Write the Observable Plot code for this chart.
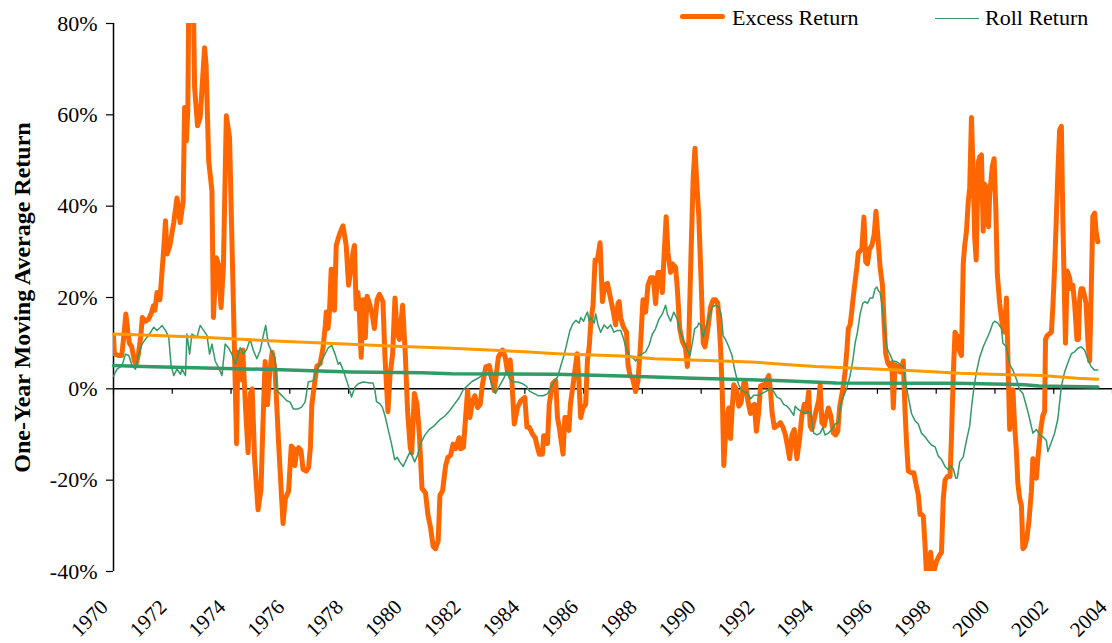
<!DOCTYPE html>
<html>
<head>
<meta charset="utf-8">
<script src="https://cdn.jsdelivr.net/npm/d3@7"></script>
<script src="https://cdn.jsdelivr.net/npm/@observablehq/plot@0.6"></script>
<style>
  html, body { margin: 0; padding: 0; background: #fff; }
  #wrap { position: relative; width: 1112px; height: 643px; font-family: "Liberation Serif", "Times New Roman", serif; color: #000; }
  .leg-line { position: absolute; }
  .leg-text { position: absolute; font-size: 22px; line-height: 22px; white-space: nowrap; }
</style>
</head>
<body>
<div id="wrap">
  <div class="leg-line" style="left:680px; top:14px; width:45px; height:5px; background:#FF6600; border-radius:2.5px;"></div>
  <div class="leg-text" style="left:732px; top:7px;">Excess Return</div>
  <div class="leg-line" style="left:935px; top:17.5px; width:44px; height:1.5px; background:#339966;"></div>
  <div class="leg-text" style="left:985px; top:7px;">Roll Return</div>
</div>
<script>
// ---- Data (year, % value) ----
const excessReturn = [
[1970.00,11.6],[1970.03,7.7],[1970.17,7.3],[1970.28,7.3],[1970.34,10.8],[1970.42,16.4],[1970.49,12.4],[1970.54,10],[1970.62,9.2],[1970.71,6.1],[1970.77,5.3],[1970.85,7.7],[1970.93,11.6],[1970.98,15.6],
[1971.08,14.8],[1971.19,15.2],[1971.28,16.4],[1971.36,18.2],[1971.41,17.2],[1971.48,21.1],[1971.58,19.5],[1971.70,29.8],[1971.77,36.8],[1971.82,29.5],[1971.92,31.4],
[1972.05,36.4],[1972.16,41.8],[1972.27,36.4],[1972.37,41],[1972.42,61.6],[1972.48,54.3],[1972.53,61],[1972.56,84],[1972.72,84],[1972.76,66],[1972.86,57.6],[1972.95,59.4],
[1973.10,74.7],[1973.15,71],[1973.24,49.9],[1973.35,43.4],[1973.40,15.6],[1973.50,28.7],[1973.57,27.3],[1973.66,17.8],[1973.74,26.6],[1973.84,59.8],[1973.95,55],
[1974.19,-12],[1974.23,8],[1974.30,5],[1974.34,2],[1974.40,8.5],[1974.50,-5],[1974.58,-14],[1974.66,-1],[1974.72,0],[1974.80,-15],[1974.92,-26.5],
[1975.02,-22],[1975.08,-9],[1975.16,6],[1975.24,-3.5],[1975.32,4],[1975.40,8],[1975.50,4],[1975.62,-12],[1975.77,-29.5],[1975.85,-24],[1975.96,-22.4],
[1976.05,-12.5],[1976.12,-13],[1976.17,-16.8],[1976.24,-13.4],[1976.30,-12.9],[1976.38,-13.5],[1976.45,-17.6],[1976.56,-18],[1976.64,-17.2],[1976.70,-12.9],[1976.75,-3.5],[1976.84,1],[1976.92,4.9],
[1977.03,5.5],[1977.13,8.9],[1977.21,14],[1977.24,16.8],[1977.30,13.2],[1977.35,16.8],[1977.41,26.2],[1977.46,26],[1977.52,17.2],[1977.58,31.4],[1977.69,33.8],[1977.81,35.7],[1977.92,31.4],
[1978.00,22.7],[1978.07,25.8],[1978.15,29.8],[1978.20,31.4],[1978.26,17.5],[1978.32,21.1],[1978.37,16.4],[1978.43,6.9],[1978.49,19.5],[1978.57,11.2],[1978.63,20.3],[1978.71,18.7],[1978.80,16.4],[1978.88,13.2],[1978.97,19.5],
[1979.05,20.7],[1979.17,19.1],[1979.24,6.9],[1979.34,-5],[1979.41,2.9],[1979.50,7.7],[1979.58,19.9],[1979.65,12.4],[1979.73,10.8],[1979.84,18.3],[1979.93,7.7],
[1980.01,-5],[1980.10,-12.9],[1980.15,-14],[1980.24,-1],[1980.33,-3.4],[1980.41,-10],[1980.50,-21.8],[1980.62,-22.8],[1980.70,-27.5],[1980.79,-30.4],[1980.88,-34.5],[1980.96,-35],
[1981.05,-33.3],[1981.11,-23.3],[1981.20,-22.3],[1981.30,-17],[1981.38,-15],[1981.47,-14.6],[1981.56,-12.1],[1981.64,-13.1],[1981.76,-10.7],[1981.81,-13.1],[1981.91,-12.8],
[1982.05,-0.4],[1982.13,-6.3],[1982.22,-2.6],[1982.30,-1.5],[1982.39,-4.1],[1982.48,-3.4],[1982.56,1.1],[1982.67,4.8],[1982.79,5.1],[1982.87,2.6],[1982.96,-0.4],
[1983.05,4.4],[1983.10,7.0],[1983.24,8.5],[1983.33,7],[1983.41,3.7],[1983.50,6.3],[1983.56,1.5],[1983.64,-7.7],[1983.75,-4.1],[1983.86,-2.6],
[1984.00,-1.9],[1984.07,-8.4],[1984.15,-8.4],[1984.26,-9.9],[1984.35,-10.7],[1984.43,-12.8],[1984.49,-14.3],[1984.60,-14.3],[1984.64,-10.3],[1984.72,-10.3],[1984.77,-12],[1984.83,-3.4],[1984.94,1.1],
[1985.05,1.8],[1985.11,-6.3],[1985.17,-8.4],[1985.30,-14.3],[1985.36,-6.3],[1985.46,-6.3],[1985.50,-9.1],[1985.55,-3.4],[1985.66,1.8],[1985.78,7.7],[1985.84,1.8],[1985.90,-6.3],[1985.98,-4.1],
[1986.07,-3.4],[1986.13,6.3],[1986.19,9.2],[1986.25,15],[1986.32,18.3],[1986.39,28.2],[1986.47,28.2],[1986.56,32],[1986.64,19.1],[1986.72,22.7],[1986.81,23.1],[1986.90,20.3],
[1987.00,17.2],[1987.09,14],[1987.17,18.7],[1987.21,19.1],[1987.26,15.6],[1987.35,13.6],[1987.46,12.4],[1987.51,5.3],[1987.58,2.9],[1987.66,2.5],[1987.77,-0.6],[1987.85,1.7],[1987.94,10],
[1988.02,19.5],[1988.11,16.8],[1988.19,22.7],[1988.28,24.3],[1988.37,24.3],[1988.45,18.7],[1988.53,25.5],[1988.62,25.5],[1988.68,21.1],[1988.73,28.2],[1988.81,37.7],[1988.87,29.8],[1988.96,25.5],
[1989.02,27.4],[1989.13,26.6],[1989.19,21.9],[1989.27,13.2],[1989.36,10.4],[1989.47,8.9],[1989.53,4.9],[1989.58,10.8],[1989.66,30.6],[1989.73,46.4],[1989.79,52.7],[1989.84,46.4],[1989.92,37.7],
[1990.00,23.5],[1990.07,10],[1990.13,9.2],[1990.21,12.4],[1990.32,17.9],[1990.41,19.5],[1990.49,19.5],[1990.57,18.7],[1990.66,9.2],[1990.72,-1],[1990.77,-16.8],[1990.86,-6.6],[1990.94,-4.2],
[1991.00,-10.9],[1991.05,-5],[1991.11,0.9],[1991.20,-0.2],[1991.28,-3.8],[1991.36,-3],[1991.45,1.3],[1991.51,1.3],[1991.59,-2.6],[1991.68,-5.4],[1991.73,-3.8],[1991.81,-3.4],[1991.88,-9.3],[1991.96,-5],
[1992.02,0.6],[1992.11,0.9],[1992.19,0.6],[1992.24,2.1],[1992.30,2.9],[1992.36,-0.2],[1992.41,-5],[1992.49,-8.5],[1992.58,-8.1],[1992.70,-7.4],[1992.79,-8.5],[1992.87,-10.1],[1992.95,-12.9],
[1993.01,-15.3],[1993.09,-10.1],[1993.17,-8.9],[1993.26,-15.3],[1993.35,-10.9],[1993.43,-5.8],[1993.51,-3.4],[1993.58,-5],[1993.66,-0.6],[1993.71,-8.1],[1993.77,-8.9],[1993.85,-6.6],[1993.92,-4.6],
[1994.00,-2.6],[1994.05,0.9],[1994.11,-7.4],[1994.19,-8.1],[1994.26,-5.8],[1994.33,-4.2],[1994.41,-5.8],[1994.50,-9.7],[1994.58,-10.1],[1994.65,-9.3],[1994.71,-4.2],[1994.75,-2.6],[1994.82,-0.2],[1994.90,3.7],[1994.96,8.5],
[1995.01,13.2],[1995.07,14],[1995.13,17.2],[1995.18,20.3],[1995.24,23.5],[1995.30,26.6],[1995.35,29.8],[1995.41,30.2],[1995.47,30.6],[1995.54,37.6],[1995.60,27.8],[1995.66,27.4],[1995.73,30.6],[1995.81,31.4],[1995.89,33.8],[1995.95,38.9],
[1996.01,33.8],[1996.09,26.6],[1996.17,22.7],[1996.23,14],[1996.28,7.7],[1996.35,5.7],[1996.43,4.9],[1996.49,5.7],[1996.54,-4.2],[1996.60,5.3],[1996.66,4.1],[1996.71,4.9],[1996.77,3.7],[1996.82,4.1],[1996.88,6.1],[1996.94,-5],
[1997.00,-12.9],[1997.05,-18],[1997.16,-18.4],[1997.24,-18.4],[1997.31,-20.8],[1997.39,-23.2],[1997.45,-27.5],[1997.50,-27.5],[1997.56,-27.9],[1997.62,-34.2],[1997.67,-41],[1997.74,-40.5],[1997.81,-35.8],[1997.88,-41],[1997.96,-39],
[1998.01,-37.8],[1998.10,-36.6],[1998.18,-35.8],[1998.24,-24],[1998.30,-20],[1998.38,-19.2],[1998.47,-19.2],[1998.52,-10.5],[1998.58,2.9],[1998.64,12.4],[1998.71,11.6],[1998.78,8.5],[1998.86,7.3],[1998.92,27.4],[1998.97,31.4],
[1999.03,34.5],[1999.09,40.9],[1999.14,44],[1999.20,59.4],[1999.26,46.4],[1999.31,33],[1999.36,28.2],[1999.43,49.6],[1999.48,50.8],[1999.54,51.2],[1999.60,34.5],[1999.65,44.8],[1999.71,44],[1999.78,35.5],[1999.82,42.5],[1999.91,48.8],[1999.97,50.4],
[2000.03,39.3],[2000.08,25.1],[2000.16,18.7],[2000.25,14],[2000.33,12.4],[2000.39,19.9],[2000.44,6.9],[2000.50,-8.9],[2000.56,-1],[2000.61,-0.2],[2000.67,-8.1],[2000.73,-13.7],[2000.78,-20.8],[2000.84,-24],[2000.90,-25.5],[2000.95,-35],
[2001.01,-34.6],[2001.09,-32.6],[2001.16,-28.7],[2001.24,-22.4],[2001.29,-15.3],[2001.35,-16],[2001.41,-19.6],[2001.46,-15.3],[2001.54,-9.7],[2001.63,-5.8],[2001.69,-5],[2001.72,10.8],[2001.77,11.6],[2001.84,12],[2001.92,12.4],[2001.97,17.9],
[2002.03,26.6],[2002.09,37.7],[2002.14,47.2],[2002.20,56.7],[2002.26,57.5],[2002.31,36.9],[2002.37,18.7],[2002.40,10],[2002.46,25.8],[2002.54,24.3],[2002.59,21.9],[2002.65,22.7],[2002.71,18.7],[2002.79,10.8],[2002.84,10.8],[2002.88,19.5],[2002.93,21.9],[2002.99,21.9],
[2003.05,20.3],[2003.10,18.7],[2003.16,10.8],[2003.22,6.1],[2003.27,19.5],[2003.33,37.7],[2003.39,38.5],[2003.44,34.5],[2003.50,32.2]
];

const rollReturn = [
[1970.00,2.8],[1970.12,4.3],[1970.29,5.1],[1970.41,7.6],[1970.52,7.3],[1970.63,5.1],[1970.75,4.3],[1970.86,7.6],[1970.97,9.8],
[1971.09,10.9],[1971.20,11.7],[1971.37,13.5],[1971.48,12.8],[1971.60,13.5],[1971.65,13.9],[1971.77,12.8],[1971.88,11.3],[1971.96,5.1],
[1972.05,2.9],[1972.16,4.3],[1972.28,3.2],[1972.33,4.3],[1972.45,2.9],[1972.50,12],[1972.59,7.6],[1972.67,12],[1972.84,11.3],[1972.95,13.9],
[1973.07,12.8],[1973.18,11.7],[1973.27,7.6],[1973.35,9.8],[1973.46,6.1],[1973.58,4.6],[1973.69,2.9],[1973.80,9.8],[1973.91,9],
[1974.03,7.6],[1974.14,5.4],[1974.22,6.9],[1974.31,9],[1974.42,7.6],[1974.54,8.7],[1974.65,10.9],[1974.76,8.4],[1974.88,6.6],[1974.99,8.4],
[1975.10,11.7],[1975.18,13.9],[1975.27,9.8],[1975.39,8],[1975.50,6.9],[1975.56,-0.4],[1975.67,-1.1],[1975.78,-1.8],[1975.90,-2.6],
[1976.01,-2.9],[1976.12,-4.4],[1976.29,-4.4],[1976.40,-4],[1976.52,-2.9],[1976.63,1.5],[1976.80,1.8],[1976.91,4],
[1977.03,5.4],[1977.14,6.9],[1977.31,9],[1977.43,9.5],[1977.54,7.6],[1977.65,5.4],[1977.71,5.8],[1977.82,4],[1977.99,0.7],
[1978.10,-1.8],[1978.22,0.4],[1978.33,1.1],[1978.50,1.5],[1978.73,1.3],[1978.83,1.3],[1978.90,-0.4],[1978.95,-2.8],
[1979.07,-3.3],[1979.15,-4],[1979.24,-5.9],[1979.35,-9],[1979.46,-12],[1979.57,-15.5],[1979.66,-15],[1979.74,-16],[1979.86,-17],
[1980.00,-15],[1980.10,-13.7],[1980.25,-16],[1980.35,-14.5],[1980.45,-12],[1980.59,-10.2],[1980.76,-8.8],[1980.93,-8],
[1981.10,-6.8],[1981.27,-6],[1981.44,-4.8],[1981.61,-3.3],[1981.77,-1.9],[1981.90,-0.2],
[1982.05,0.7],[1982.20,1.6],[1982.34,2.1],[1982.45,2.5],[1982.60,3.2],[1982.75,3.5],[1982.88,1.0],
[1983.00,-1.0],[1983.15,0.8],[1983.30,2.5],[1983.37,3.9],[1983.48,2.2],[1983.60,1.5],[1983.76,1.5],[1983.93,1.1],
[1984.05,0.6],[1984.16,-0.5],[1984.27,-0.9],[1984.45,-1.5],[1984.62,-1.5],[1984.77,-1.1],[1984.90,0.4],
[1985.00,1.6],[1985.12,2.7],[1985.23,5.2],[1985.34,7.5],[1985.45,10.5],[1985.53,12.7],[1985.63,14.2],[1985.74,15],[1985.85,14.4],[1985.90,15.6],
[1986.00,14.8],[1986.07,16],[1986.13,16.8],[1986.19,14.8],[1986.25,15.6],[1986.36,14.4],[1986.41,16.4],[1986.49,14],[1986.58,12.4],[1986.70,14],[1986.81,13.2],[1986.92,14],
[1987.03,12.4],[1987.15,12.8],[1987.26,12.8],[1987.35,11.2],[1987.43,9.2],[1987.55,7.3],[1987.66,6.9],[1987.77,6.1],[1987.89,7.3],
[1988.00,7.7],[1988.11,8.1],[1988.23,9.6],[1988.34,12],[1988.45,13.2],[1988.56,15.2],[1988.68,16.4],[1988.79,18.3],[1988.85,16.4],[1988.96,14.8],
[1989.07,16.8],[1989.19,15.2],[1989.30,12.4],[1989.41,10.4],[1989.53,8.5],[1989.62,7.3],[1989.70,10],[1989.78,13.2],[1989.87,13.6],[1989.92,14.4],[1989.98,14],
[1990.07,11.2],[1990.15,13.2],[1990.26,15.6],[1990.38,17.9],[1990.49,18.3],[1990.60,17.9],[1990.68,16.4],[1990.75,11.6],[1990.83,10.8],[1990.94,9.2],
[1991.05,7.3],[1991.13,4.5],[1991.22,2.1],[1991.28,0.9],[1991.36,-0.2],[1991.45,-0.6],[1991.59,-1],[1991.68,-2.2],[1991.79,-1.4],[1991.96,-1.4],
[1992.07,-1],[1992.19,-0.6],[1992.30,-0.2],[1992.38,0.2],[1992.47,-0.6],[1992.58,-1.8],[1992.70,-2.2],[1992.81,-3.4],[1992.92,-3.8],
[1993.03,-4.6],[1993.15,-5.8],[1993.20,-3.8],[1993.32,-4.6],[1993.43,-5],[1993.54,-5.4],[1993.66,-5],[1993.73,-5.4],[1993.83,-9.7],[1993.94,-10.1],
[1994.05,-9.7],[1994.14,-8.5],[1994.22,-10.1],[1994.33,-9.7],[1994.45,-8.9],[1994.56,-7.7],[1994.67,-7.4],[1994.75,-3.4],[1994.84,-1.8],[1994.96,0.2],
[1995.07,2.9],[1995.16,6.1],[1995.24,10],[1995.32,12.4],[1995.41,16.4],[1995.50,18.7],[1995.58,19.1],[1995.66,18.7],[1995.75,19.9],[1995.84,19.9],[1995.92,21.9],[1995.98,22.3],
[1996.03,21.5],[1996.09,21.1],[1996.15,18.7],[1996.23,14],[1996.32,9],[1996.43,7.5],[1996.52,6.1],[1996.63,6],[1996.71,5.7],[1996.79,5.2],[1996.88,5],[1996.97,1],
[1997.05,-1.8],[1997.16,-5.4],[1997.28,-7],[1997.39,-7.7],[1997.50,-9.7],[1997.62,-10.5],[1997.73,-11.5],[1997.84,-12.3],[1997.96,-12.7],
[1998.07,-14.7],[1998.18,-15.5],[1998.30,-17],[1998.41,-17.7],[1998.49,-16.8],[1998.58,-17.5],[1998.67,-19.6],[1998.72,-19.5],[1998.80,-16],[1998.92,-14.9],
[1999.03,-11.3],[1999.14,-8.1],[1999.22,-3],[1999.30,1],[1999.37,3.7],[1999.48,6.9],[1999.60,9.2],[1999.71,10.8],[1999.82,12.4],[1999.93,14.4],[1999.99,14.8],
[2000.10,14.4],[2000.22,13.2],[2000.27,10],[2000.39,9.2],[2000.50,5.3],[2000.61,4.1],[2000.73,2.1],[2000.84,-0.2],[2000.95,-1],
[2001.07,-3.8],[2001.12,-5],[2001.18,-6.6],[2001.29,-9.7],[2001.41,-8.9],[2001.52,-10.1],[2001.63,-10.5],[2001.75,-11.3],[2001.80,-13.7],[2001.92,-11.7],
[2002.03,-9.7],[2002.14,-6.6],[2002.26,0.6],[2002.37,3.7],[2002.48,5.7],[2002.60,7.7],[2002.71,8.1],[2002.82,8.9],[2002.93,9.2],
[2003.05,8.5],[2003.16,6.5],[2003.27,4.9],[2003.39,4.1],[2003.50,4.1]
];

const excessTrend = [
[1970,12.0],[1971,11.8],[1973,11.3],[1975.7,10.4],[1977.3,10.0],[1979.6,9.3],[1981.5,8.9],[1984,8.1],[1985.1,7.7],[1987.3,7.2],
[1988.4,6.6],[1991.7,5.9],[1993,5.3],[1993.9,4.9],[1996.1,4.3],[1997.4,3.9],[1998.8,3.4],[2001.6,2.9],[2002.8,2.3],[2003.5,2.1]
];
const rollTrend = [
[1970,5.1],[1971,4.9],[1973.45,4.5],[1975.7,4.2],[1978.1,3.7],[1980.5,3.5],[1981.5,3.3],[1985.1,3.2],[1987.3,2.8],[1989.75,2.3],
[1991.7,2.0],[1993,1.7],[1994.6,1.3],[1997.4,1.2],[1998.7,1.2],[2001,0.9],[2001.5,0.6],[2003.5,0.4]
];

const xTicks = [1970,1972,1974,1976,1978,1980,1982,1984,1986,1988,1990,1992,1994,1996,1998,2000,2002,2004];
const yTicks = [-40,-20,0,20,40,60,80];
const yLabel = "One-Year Moving Average Return";

const toRows = arr => arr.map(([t, v]) => ({t, v}));

const chart = Plot.plot({
  width: 1112,
  height: 643,
  marginLeft: 113,
  marginRight: 0,
  marginTop: 23,
  marginBottom: 72,
  style: {fontFamily: "'Liberation Serif', 'Times New Roman', serif", fontSize: "22px", color: "#000", background: "transparent", overflow: "visible"},
  x: {domain: [1970, 2004]},
  y: {domain: [-40, 80]},
  marks: [
    Plot.axisY({ticks: yTicks, tickSize: 7, tickPadding: 9, tickFormat: d => `${d}%`, label: null, fontSize: 22, strokeWidth: 1.2}),
    Plot.axisX({ticks: xTicks, tickSize: 0, tickPadding: 24, tickRotate: -45, tickFormat: d => String(d), label: null, fontSize: 21, dx: -9, dy: 8}),
    Plot.text([yLabel], {frameAnchor: "left", textAnchor: "middle", rotate: -90, dx: -91, fontWeight: "bold", fontSize: 24, fill: "#000"}),
    Plot.ruleX([1970], {y1: -40, y2: 80, stroke: "#000", strokeWidth: 1.5}),
    Plot.ruleY([0], {stroke: "#000", strokeWidth: 1.5}),
    Plot.ruleX(xTicks, {x: d => d, y1: 0, y2: -1.2, stroke: "#000", strokeWidth: 1.2}),
    Plot.line(toRows(excessReturn), {x: "t", y: "v", stroke: "#FF6600", strokeWidth: 5, clip: true}),
    Plot.line(toRows(rollReturn), {x: "t", y: "v", stroke: "#339966", strokeWidth: 1.5, clip: true}),
    Plot.line(toRows(excessTrend), {x: "t", y: "v", stroke: "#FF9900", strokeWidth: 3, curve: "linear"}),
    Plot.line(toRows(rollTrend), {x: "t", y: "v", stroke: "#339966", strokeWidth: 3.5, curve: "linear"})
  ]
});
chart.style.position = "absolute";
chart.style.left = "0px";
chart.style.top = "0px";
document.getElementById("wrap").prepend(chart);
</script>
</body>
</html>
